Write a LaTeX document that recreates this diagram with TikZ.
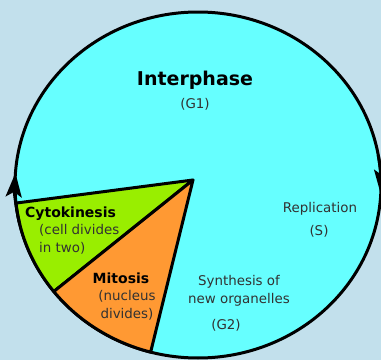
\documentclass[tikz,border=0pt]{standalone}
\usepackage{fontspec}
\setmainfont{DejaVu Sans}
\usepackage{xcolor}
\usetikzlibrary{arrows.meta, calc}

\definecolor{bgblue}{RGB}{194,224,236}
\definecolor{cyanfill}{RGB}{102,255,255}
\definecolor{greenfill}{RGB}{153,238,0}
\definecolor{orangefill}{RGB}{255,153,51}
\definecolor{textgrey}{RGB}{50,50,50}

\begin{document}
\begin{tikzpicture}[
  x=1pt, y=1pt,
  phase/.style={font=\bfseries\fontsize{14}{17}\selectfont, text=black, inner sep=0pt},
  note/.style={font=\fontsize{13.4}{18}\selectfont, text=textgrey, align=center, inner sep=0pt},
  wedge/.style={draw, line width=3pt, line join=round},
  cyclearrow/.style={line width=3pt, -{Stealth[length=24pt, width=16pt, inset=5pt]}}
]
\fill[bgblue] (0,0) rectangle (381,360);
\useasboundingbox (0,0) rectangle (381,360);

\coordinate (mid) at (198,175);
\coordinate (apex) at (193,180);

% whole cycle
\fill[cyanfill] (mid) ellipse [x radius=183, y radius=173];
\draw[line width=3pt] (mid) ellipse [x radius=183, y radius=173];

% cell division wedges
\filldraw[wedge, fill=greenfill] (apex) -- ($(mid)+(186:183 and 173)$)
  arc[start angle=186, end angle=218, x radius=183, y radius=173] -- cycle;
\filldraw[wedge, fill=orangefill] (apex) -- ($(mid)+(218:183 and 173)$)
  arc[start angle=218, end angle=255, x radius=183, y radius=173] -- cycle;

% direction of the cycle
\draw[cyclearrow] ($(mid)+(193:183 and 173)$)
  arc[start angle=193, end angle=176, x radius=183, y radius=173];
\draw[cyclearrow] ($(mid)+(10:183 and 173)$)
  arc[start angle=10, end angle=-3, x radius=183, y radius=173];

% labels
\node[phase, font=\bfseries\fontsize{19}{22}\selectfont] (inter) at (195,280) {Interphase};
\node[note] (gone) at (195,256) {(G1)};
\node[note] (repl) at (320,151) {Replication};
\node[note] (sphase) at (319,129) {(S)};
\node[note] (synth) at (239,69) {Synthesis of\\new organelles};
\node[note] (gtwo) at (226,35) {(G2)};
\node[phase, anchor=west] (cyto) at (25,146) {Cytokinesis};
\node[note, align=left, anchor=north west] (cytonote) at (39,136) {(cell divides\\in two)};
\node[phase] (mito) at (121,82) {Mitosis};
\node[note] (mitonote) at (127,55) {(nucleus\\divides)};
\end{tikzpicture}
\end{document}
